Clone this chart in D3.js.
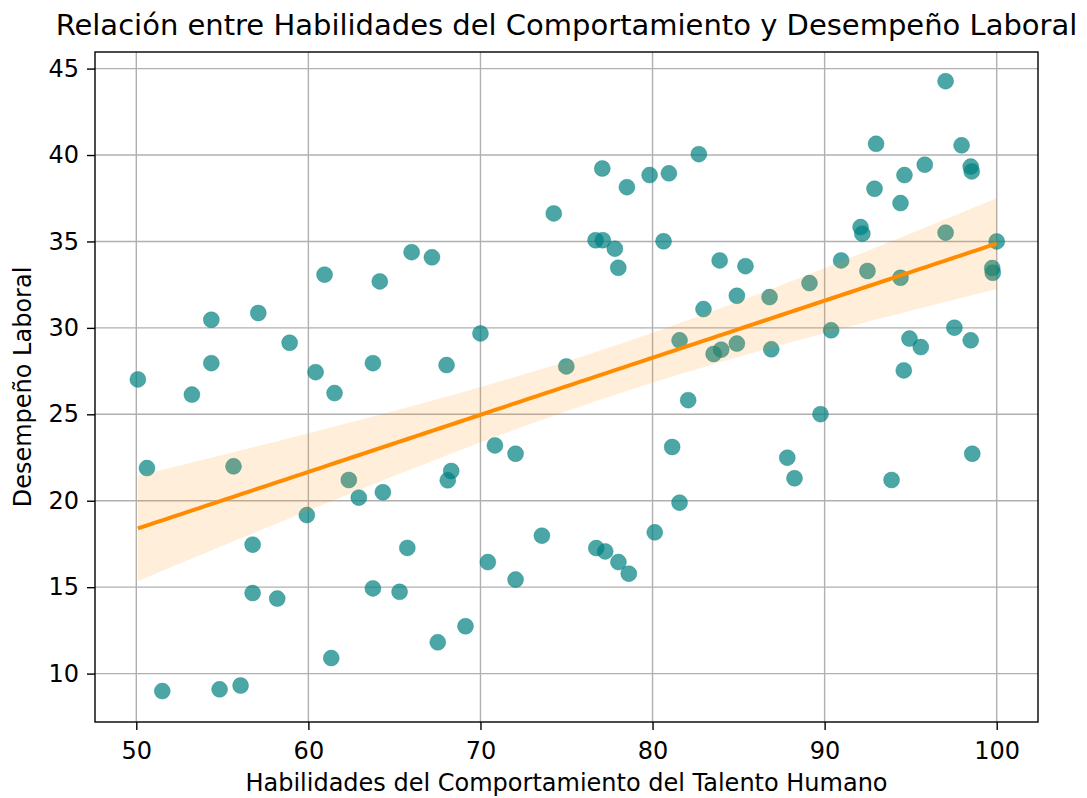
<!DOCTYPE html>
<html>
<head>
<meta charset="utf-8">
<script src="https://cdn.jsdelivr.net/npm/d3@7"></script>
<style>
  html, body { margin: 0; padding: 0; background: #ffffff; }
  svg { display: block; font-family: "DejaVu Sans", sans-serif; }
</style>
</head>
<body>
<svg id="chart" width="1087" height="798"></svg>
<script>
// Habilidades del comportamiento (x) vs desempeño laboral (y), one pair per person
const habilidades = [
  50.09, 50.62, 51.51, 53.23, 54.36, 54.36, 54.84, 55.65, 56.06, 56.76,
  56.76, 57.09, 58.19, 58.91, 59.91, 60.42, 60.94, 61.33, 61.52, 62.35,
  62.93, 63.75, 63.75, 64.15, 64.33, 65.30, 65.75, 66.00, 67.18, 67.52,
  68.03, 68.10, 68.30, 69.13, 70.00, 70.43, 70.84, 72.04, 72.04, 73.57,
  74.26, 74.99, 76.69, 76.73, 77.08, 77.11, 77.25, 77.81, 78.01, 78.02,
  78.51, 78.62, 79.83, 80.13, 80.64, 80.95, 81.14, 81.57, 81.57, 82.07,
  82.69, 82.96, 83.55, 83.99, 83.90, 84.90, 84.90, 85.40, 86.80, 86.90,
  87.83, 88.25, 89.12, 89.76, 90.38, 90.96, 92.09, 92.19, 92.49, 92.90,
  92.99, 93.89, 94.41, 94.41, 94.60, 94.64, 94.93, 95.59, 95.82, 97.03,
  97.03, 97.54, 97.96, 98.49, 98.55, 98.49, 98.58, 99.74, 99.77, 100.00
];
const desempeno = [
  27.02, 21.89, 8.99, 26.14, 30.47, 27.96, 9.09, 21.99, 9.31, 17.46,
  14.66, 30.86, 14.34, 29.14, 19.17, 27.44, 33.08, 10.90, 26.23, 21.20,
  20.18, 27.96, 14.93, 32.69, 20.49, 14.73, 17.27, 34.38, 34.08, 11.81,
  27.85, 21.18, 21.72, 12.74, 29.68, 16.45, 23.20, 22.72, 15.44, 17.98,
  36.62, 27.77, 35.07, 17.26, 39.22, 35.07, 17.07, 34.58, 33.48, 16.45,
  38.14, 15.78, 38.84, 18.17, 35.01, 38.94, 23.11, 29.28, 19.89, 25.82,
  40.05, 31.09, 28.49, 28.74, 33.90, 31.86, 29.09, 33.57, 31.78, 28.76,
  22.49, 21.30, 32.59, 25.01, 29.86, 33.90, 35.83, 35.45, 33.29, 38.05,
  40.65, 21.20, 37.22, 32.90, 27.54, 38.84, 29.38, 28.89, 39.44, 44.27,
  35.51, 30.01, 40.56, 39.33, 39.05, 29.28, 22.72, 33.46, 33.19, 35.00
];
const xTicks = [50, 60, 70, 80, 90, 100];
const yTicks = [10, 15, 20, 25, 30, 35, 40, 45];

const titulo = "Relación entre Habilidades del Comportamiento y Desempeño Laboral";
const etiquetaX = "Habilidades del Comportamiento del Talento Humano";
const etiquetaY = "Desempeño Laboral";

const svg = d3.select("#chart");
const plot = { left: 95, right: 1038, top: 52, bottom: 722 };

const x = d3.scaleLinear().domain([47.6, 102.4]).range([plot.left, plot.right]);
const y = d3.scaleLinear().domain([7.2, 45.96]).range([plot.bottom, plot.top]);

// Grid
const grid = svg.append("g");
grid.selectAll("line.gx").data(xTicks).join("line")
  .attr("x1", d => x(d)).attr("x2", d => x(d))
  .attr("y1", plot.top).attr("y2", plot.bottom)
  .attr("stroke", "#b0b0b0").attr("stroke-width", 1.4);
grid.selectAll("line.gy").data(yTicks).join("line")
  .attr("y1", d => y(d)).attr("y2", d => y(d))
  .attr("x1", plot.left).attr("x2", plot.right)
  .attr("stroke", "#b0b0b0").attr("stroke-width", 1.4);

// Scatter
const puntos = habilidades.map((v, i) => ({ x: v, y: desempeno[i] }));
svg.append("g").selectAll("circle").data(puntos).join("circle")
  .attr("cx", d => x(d.x)).attr("cy", d => y(d.y)).attr("r", 8)
  .attr("fill", "#008080").attr("fill-opacity", 0.7)
  .attr("stroke", "#008080").attr("stroke-opacity", 0.35).attr("stroke-width", 1);

// Ordinary least squares fit with 95% confidence band for the mean
const n = puntos.length;
const mx = d3.mean(habilidades), my = d3.mean(desempeno);
const sxx = d3.sum(habilidades, v => (v - mx) ** 2);
const sxy = d3.sum(puntos, p => (p.x - mx) * (p.y - my));
const pendiente = sxy / sxx;
const intercepto = my - pendiente * mx;
const sse = d3.sum(puntos, p => (p.y - (intercepto + pendiente * p.x)) ** 2);
const sRes = Math.sqrt(sse / (n - 2));
const tCrit = 1.9845;
const [xMin, xMax] = d3.extent(habilidades);
const malla = d3.range(100).map(i => xMin + (xMax - xMin) * i / 99);
const banda = malla.map(v => {
  const yHat = intercepto + pendiente * v;
  const se = sRes * Math.sqrt(1 / n + (v - mx) ** 2 / sxx);
  return { x: v, y: yHat, lo: yHat - tCrit * se, hi: yHat + tCrit * se };
});

svg.append("path").datum(banda)
  .attr("d", d3.area().x(d => x(d.x)).y0(d => y(d.lo)).y1(d => y(d.hi)))
  .attr("fill", "#ff8c00").attr("fill-opacity", 0.15);

svg.append("path").datum(banda)
  .attr("d", d3.line().x(d => x(d.x)).y(d => y(d.y)))
  .attr("fill", "none").attr("stroke", "#ff8c00").attr("stroke-width", 4);

// Frame
svg.append("rect")
  .attr("x", plot.left).attr("y", plot.top)
  .attr("width", plot.right - plot.left).attr("height", plot.bottom - plot.top)
  .attr("fill", "none").attr("stroke", "#000").attr("stroke-width", 1.4);

// Axes
const ejeX = svg.append("g").attr("transform", `translate(0,${plot.bottom})`)
  .call(d3.axisBottom(x).tickValues(xTicks).tickFormat(d3.format("d")).tickSize(8).tickPadding(8));
const ejeY = svg.append("g").attr("transform", `translate(${plot.left},0)`)
  .call(d3.axisLeft(y).tickValues(yTicks).tickFormat(d3.format("d")).tickSize(8).tickPadding(8));
[ejeX, ejeY].forEach(g => {
  g.select(".domain").remove();
  g.selectAll(".tick line").attr("stroke", "#000").attr("stroke-width", 1.4);
  g.selectAll(".tick text").attr("fill", "#000")
    .style("font-family", "'DejaVu Sans', sans-serif").style("font-size", "24px");
});
ejeX.selectAll(".tick text").attr("dy", null).attr("y", 37);

// Titles
svg.append("text").attr("x", (plot.left + plot.right) / 2).attr("y", 35)
  .attr("text-anchor", "middle").style("font-size", "29px").attr("fill", "#000")
  .text(titulo);
svg.append("text").attr("x", (plot.left + plot.right) / 2).attr("y", 791)
  .attr("text-anchor", "middle").style("font-size", "24px").attr("fill", "#000")
  .text(etiquetaX);
svg.append("text")
  .attr("transform", `translate(31,${(plot.top + plot.bottom) / 2}) rotate(-90)`)
  .attr("text-anchor", "middle").style("font-size", "24px").attr("fill", "#000")
  .text(etiquetaY);
</script>
</body>
</html>
